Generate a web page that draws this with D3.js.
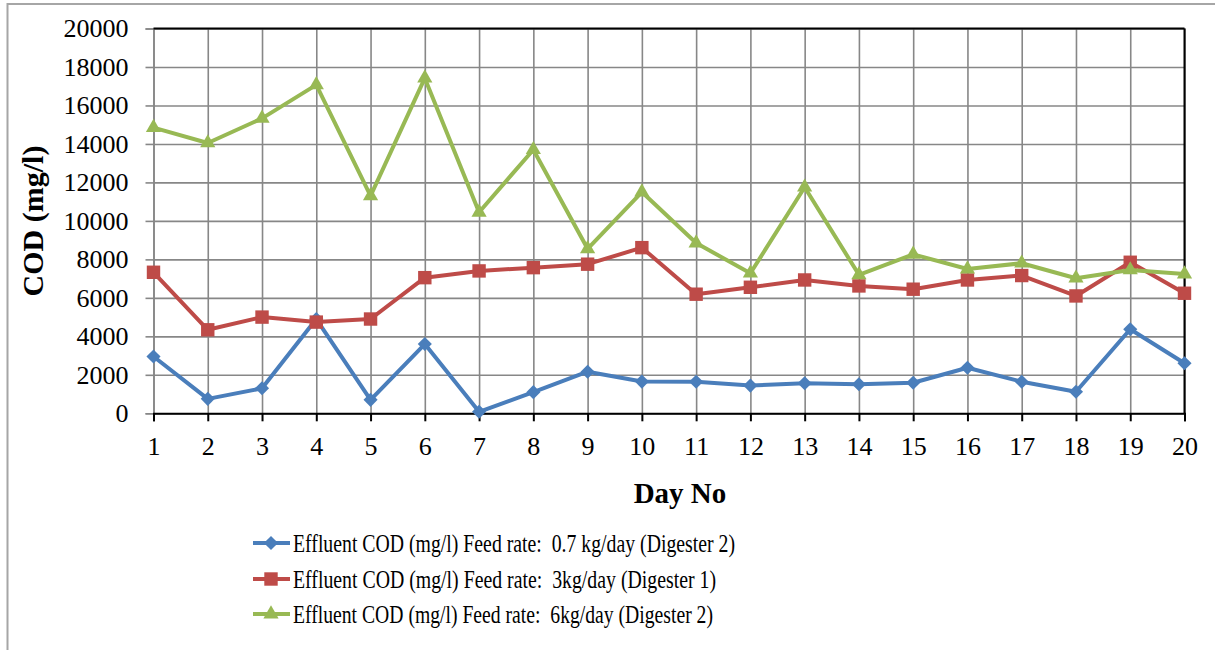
<!DOCTYPE html>
<html>
<head>
<meta charset="utf-8">
<script src="https://cdn.jsdelivr.net/npm/d3@7"></script>
<style>
  html, body { margin: 0; padding: 0; background: #fff; }
  svg { display: block; }
</style>
</head>
<body>
<svg id="chart" width="1215" height="650"></svg>
<script>
// Day numbers along the x axis
const days = d3.range(1, 21);

// Effluent COD (mg/l) per day for each feed rate
const codLow = [2950, 750, 1300, 4900, 700, 3600, 80, 1100, 2160, 1650,
                1640, 1440, 1560, 1510, 1590, 2370, 1640, 1120, 4370, 2600];
const codMid = [7330, 4340, 5000, 4740, 4900, 7050, 7400, 7570, 7750, 8610,
                6190, 6550, 6930, 6620, 6450, 6930, 7160, 6100, 7850, 6240];
const codHigh = [14850, 14050, 15330, 17070, 11300, 17420, 10450, 13700, 8550, 11500,
                 8850, 7280, 11750, 7200, 8260, 7500, 7800, 7020, 7450, 7240];

const yTicks = [0, 2000, 4000, 6000, 8000, 10000, 12000, 14000, 16000, 18000, 20000];

const seriesNames = [
  "Effluent COD (mg/l) Feed rate:  0.7 kg/day (Digester 2)",
  "Effluent COD (mg/l) Feed rate:  3kg/day (Digester 1)",
  "Effluent COD (mg/l) Feed rate:  6kg/day (Digester 2)"
];

const FONT = '"Liberation Serif", "Times New Roman", serif';

const series = [
  { name: seriesNames[0], values: codLow,  color: "#4a7ebb", marker: d3.symbolSquare,   size: 100, rotate: 45, legendWidth: 442 },
  { name: seriesNames[1], values: codMid,  color: "#be4b48", marker: d3.symbolSquare,   size: 180, rotate: 0,  legendWidth: 423 },
  { name: seriesNames[2], values: codHigh, color: "#98b954", marker: d3.symbolTriangle, size: 100, rotate: 0,  legendWidth: 420 }
];

const svg = d3.select("#chart");

// Outer chart frame (only its top and left edges fall inside the view)
svg.append("rect")
  .attr("x", 7.5).attr("y", 4)
  .attr("width", 1240).attr("height", 700)
  .attr("fill", "none").attr("stroke", "#a6a6a6").attr("stroke-width", 2);

const plot = { left: 153.5, right: 1184.5, top: 28.5, bottom: 413.3 };

const x = d3.scaleLinear().domain([1, 20]).range([plot.left, plot.right]);
const y = d3.scaleLinear().domain([0, 20000]).range([plot.bottom, plot.top]);

const g = svg.append("g");

// Horizontal gridlines
g.append("g")
  .attr("transform", `translate(${plot.left},0)`)
  .call(d3.axisLeft(y).tickValues(yTicks).tickSize(-(plot.right - plot.left)).tickFormat(""))
  .call(s => s.select(".domain").remove())
  .call(s => s.selectAll("line").attr("stroke", "#878787").attr("stroke-width", 1.6));

// Vertical gridlines at each day
g.append("g")
  .attr("transform", `translate(0,${plot.top})`)
  .call(d3.axisBottom(x).tickValues(days).tickSize(plot.bottom - plot.top).tickFormat(""))
  .call(s => s.select(".domain").remove())
  .call(s => s.selectAll("line").attr("stroke", "#878787").attr("stroke-width", 1.6));

// Y axis with tick labels
const yAxis = g.append("g")
  .attr("transform", `translate(${plot.left},0)`)
  .call(d3.axisLeft(y).tickValues(yTicks).tickSize(8).tickPadding(17).tickFormat(d3.format("d")));
yAxis.select(".domain").attr("stroke", "#878787").attr("stroke-width", 1.6);
yAxis.selectAll("line").attr("stroke", "#878787").attr("stroke-width", 1.6);
yAxis.selectAll("text").style("font-family", FONT).style("font-size", "26px").attr("fill", "#000");

// Plot area top and right edges
g.append("line")
  .attr("x1", plot.left).attr("x2", plot.right)
  .attr("y1", plot.top).attr("y2", plot.top)
  .attr("stroke", "#000").attr("stroke-width", 2);
g.append("line")
  .attr("x1", plot.right).attr("x2", plot.right)
  .attr("y1", plot.top).attr("y2", plot.bottom)
  .attr("stroke", "#000").attr("stroke-width", 2);

// X axis with day labels
const xAxis = g.append("g")
  .attr("transform", `translate(0,${plot.bottom})`)
  .call(d3.axisBottom(x).tickValues(days).tickSize(8).tickPadding(15).tickFormat(d3.format("d")));
xAxis.select(".domain").attr("stroke", "#000").attr("stroke-width", 2);
xAxis.selectAll("line").attr("stroke", "#000").attr("stroke-width", 2);
xAxis.selectAll("text").style("font-family", FONT).style("font-size", "26px").attr("fill", "#000");

// Series lines and markers
const line = d3.line().x((d, i) => x(days[i])).y(d => y(d));

series.forEach(s => {
  const sg = g.append("g");
  sg.append("path")
    .datum(s.values)
    .attr("d", line)
    .attr("fill", "none")
    .attr("stroke", s.color)
    .attr("stroke-width", 4)
    .attr("stroke-linejoin", "round");
  sg.selectAll("path.marker")
    .data(s.values)
    .join("path")
    .attr("class", "marker")
    .attr("transform", (d, i) => `translate(${x(days[i])},${y(d)}) rotate(${s.rotate})`)
    .attr("d", d3.symbol().type(s.marker).size(s.size))
    .attr("fill", s.color);
});

// Axis titles
svg.append("text")
  .attr("transform", "translate(43,221) rotate(-90)")
  .attr("text-anchor", "middle")
  .style("font-family", FONT)
  .style("font-size", "30px")
  .style("font-weight", "bold")
  .text("COD (mg/l)");

svg.append("text")
  .attr("x", 680).attr("y", 503)
  .attr("text-anchor", "middle")
  .style("font-family", FONT)
  .style("font-size", "29px")
  .style("font-weight", "bold")
  .text("Day No");

// Legend
const legend = svg.append("g");
const legendRows = [543, 579, 614];
series.forEach((s, i) => {
  const row = legend.append("g").attr("transform", `translate(0,${legendRows[i]})`);
  row.append("line")
    .attr("x1", 253).attr("x2", 290)
    .attr("stroke", s.color).attr("stroke-width", 4);
  row.append("path")
    .attr("transform", `translate(271,0) rotate(${s.rotate})`)
    .attr("d", d3.symbol().type(s.marker).size(s.size))
    .attr("fill", s.color);
  row.append("text")
    .attr("x", 293).attr("y", 9)
    .attr("textLength", s.legendWidth)
    .attr("lengthAdjust", "spacingAndGlyphs")
    .style("font-family", FONT)
    .style("font-size", "25px")
    .style("white-space", "pre")
    .text(s.name);
});
</script>
</body>
</html>
